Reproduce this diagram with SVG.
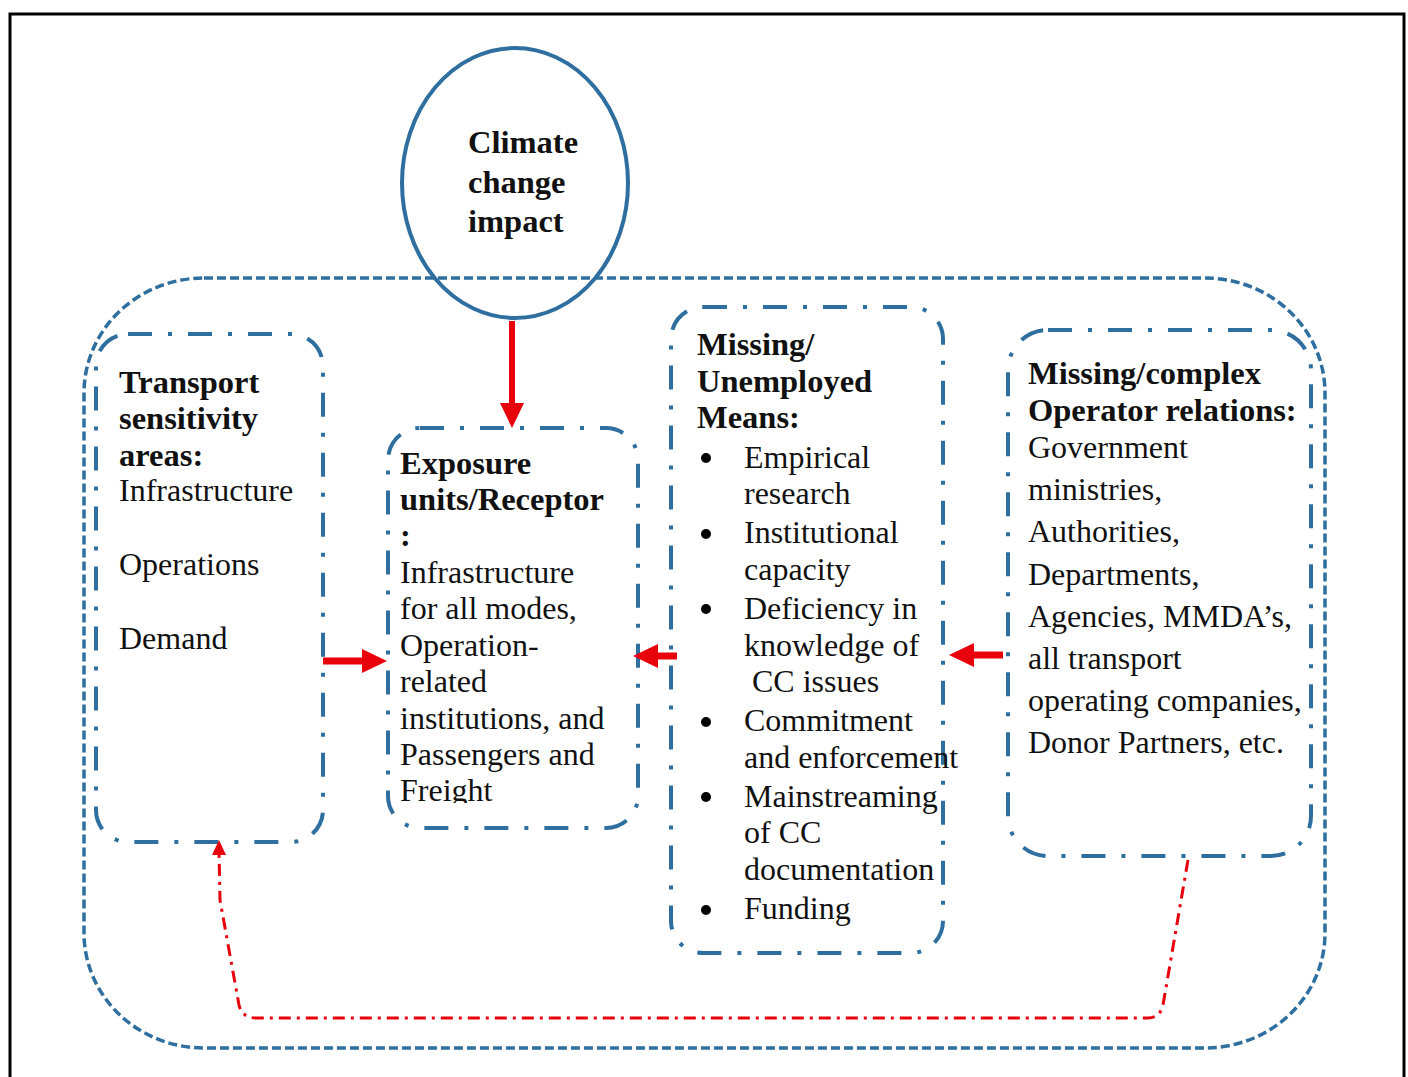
<svg xmlns="http://www.w3.org/2000/svg" width="1408" height="1077" viewBox="0 0 1408 1077">
<style>
.t{font-family:"Liberation Serif","Times New Roman",serif;font-size:32px;fill:#111}
.b{font-weight:bold;font-size:32.5px}
.box{fill:none;stroke:#2E6FA0;stroke-width:4;stroke-dasharray:24 16 4 16}
.red{fill:#E8000B}
.redl{stroke:#E8000B;fill:none}
</style>
<defs>
<clipPath id="clipExp"><rect x="380" y="420" width="270" height="383"/></clipPath>
</defs>
<rect x="0" y="0" width="1408" height="1077" fill="#fff"/>
<path d="M10,1080 V14 H1404 V1080" fill="none" stroke="#000" stroke-width="3"/>
<rect id="outer" x="84" y="278" width="1241" height="770" rx="120" ry="115" fill="none" stroke="#2E6FA0" stroke-width="3.5" stroke-dasharray="9 4"/>

<g id="climate">
<ellipse cx="515" cy="183" rx="113" ry="135" fill="none" stroke="#2E6FA0" stroke-width="4"/>
<text class="t b" x="468" y="153">Climate</text>
<text class="t b" x="468" y="193">change</text>
<text class="t b" x="468" y="232">impact</text>
</g>

<g id="transport">
<rect class="box" x="96" y="334" width="227" height="508" rx="32"/>
<text class="t b" x="119" y="393">Transport</text>
<text class="t b" x="119" y="429">sensitivity</text>
<text class="t b" x="119" y="466">areas:</text>
<text class="t" x="119" y="501">Infrastructure</text>
<text class="t" x="119" y="575">Operations</text>
<text class="t" x="119" y="649">Demand</text>
</g>

<g id="exposure">
<rect class="box" x="388" y="428" width="250" height="400" rx="32"/>
<text class="t b" x="400" y="474">Exposure</text>
<text class="t b" x="400" y="510">units/Receptor</text>
<text class="t b" x="400" y="546">:</text>
<g clip-path="url(#clipExp)">
<text class="t" x="400" y="583">Infrastructure</text>
<text class="t" x="400" y="619">for all modes,</text>
<text class="t" x="400" y="656">Operation-</text>
<text class="t" x="400" y="692">related</text>
<text class="t" x="400" y="729">institutions, and</text>
<text class="t" x="400" y="765">Passengers and</text>
<text class="t" x="400" y="801">Freight</text>
</g>
</g>

<g id="means">
<rect class="box" x="671" y="307" width="272" height="646" rx="32"/>
<text class="t b" x="697" y="355">Missing/</text>
<text class="t b" x="697" y="392">Unemployed</text>
<text class="t b" x="697" y="428">Means:</text>
<g fill="#000">
<circle cx="706" cy="458" r="5"/>
<circle cx="706" cy="534" r="5"/>
<circle cx="706" cy="609" r="5"/>
<circle cx="706" cy="722" r="5"/>
<circle cx="706" cy="797" r="5"/>
<circle cx="706" cy="910" r="5"/>
</g>
<text class="t" x="744" y="468">Empirical</text>
<text class="t" x="744" y="504">research</text>
<text class="t" x="744" y="543">Institutional</text>
<text class="t" x="744" y="580">capacity</text>
<text class="t" x="744" y="619">Deficiency in</text>
<text class="t" x="744" y="656">knowledge of</text>
<text class="t" x="752" y="692">CC issues</text>
<text class="t" x="744" y="731">Commitment</text>
<text class="t" x="744" y="768">and enforcement</text>
<text class="t" x="744" y="807">Mainstreaming</text>
<text class="t" x="744" y="843">of CC</text>
<text class="t" x="744" y="880">documentation</text>
<text class="t" x="744" y="919">Funding</text>
</g>

<g id="operators">
<rect class="box" x="1008" y="330" width="303" height="526" rx="40"/>
<text class="t b" x="1028" y="384">Missing/complex</text>
<text class="t b" x="1028" y="421">Operator relations:</text>
<text class="t" x="1028" y="458">Government</text>
<text class="t" x="1028" y="500">ministries,</text>
<text class="t" x="1028" y="542">Authorities,</text>
<text class="t" x="1028" y="585">Departments,</text>
<text class="t" x="1028" y="627">Agencies, MMDA’s,</text>
<text class="t" x="1028" y="669">all transport</text>
<text class="t" x="1028" y="711">operating companies,</text>
<text class="t" x="1028" y="753">Donor Partners, etc.</text>
</g>

<g id="connectors">
<line class="redl" x1="512" y1="321" x2="512" y2="405" stroke-width="6"/>
<polygon class="red" points="500,403 524,403 512,428"/>
<line class="redl" x1="323" y1="661" x2="365" y2="661" stroke-width="7"/>
<polygon class="red" points="362,649 362,673 387,661"/>
<line class="redl" x1="677" y1="656" x2="655" y2="656" stroke-width="7"/>
<polygon class="red" points="658,644 658,668 633,656"/>
<line class="redl" x1="1003" y1="655" x2="971" y2="655" stroke-width="7"/>
<polygon class="red" points="974,643 974,667 949,655"/>
<path class="redl" d="M1188,860 L1163,1005 Q1160,1018 1148,1018 L256,1018 Q242,1018 239,1005 L220,900 L219,852" stroke-width="3" stroke-dasharray="12 6 3 6"/>
<polygon class="red" points="212,855 226,855 219,840"/>
</g>
</svg>
